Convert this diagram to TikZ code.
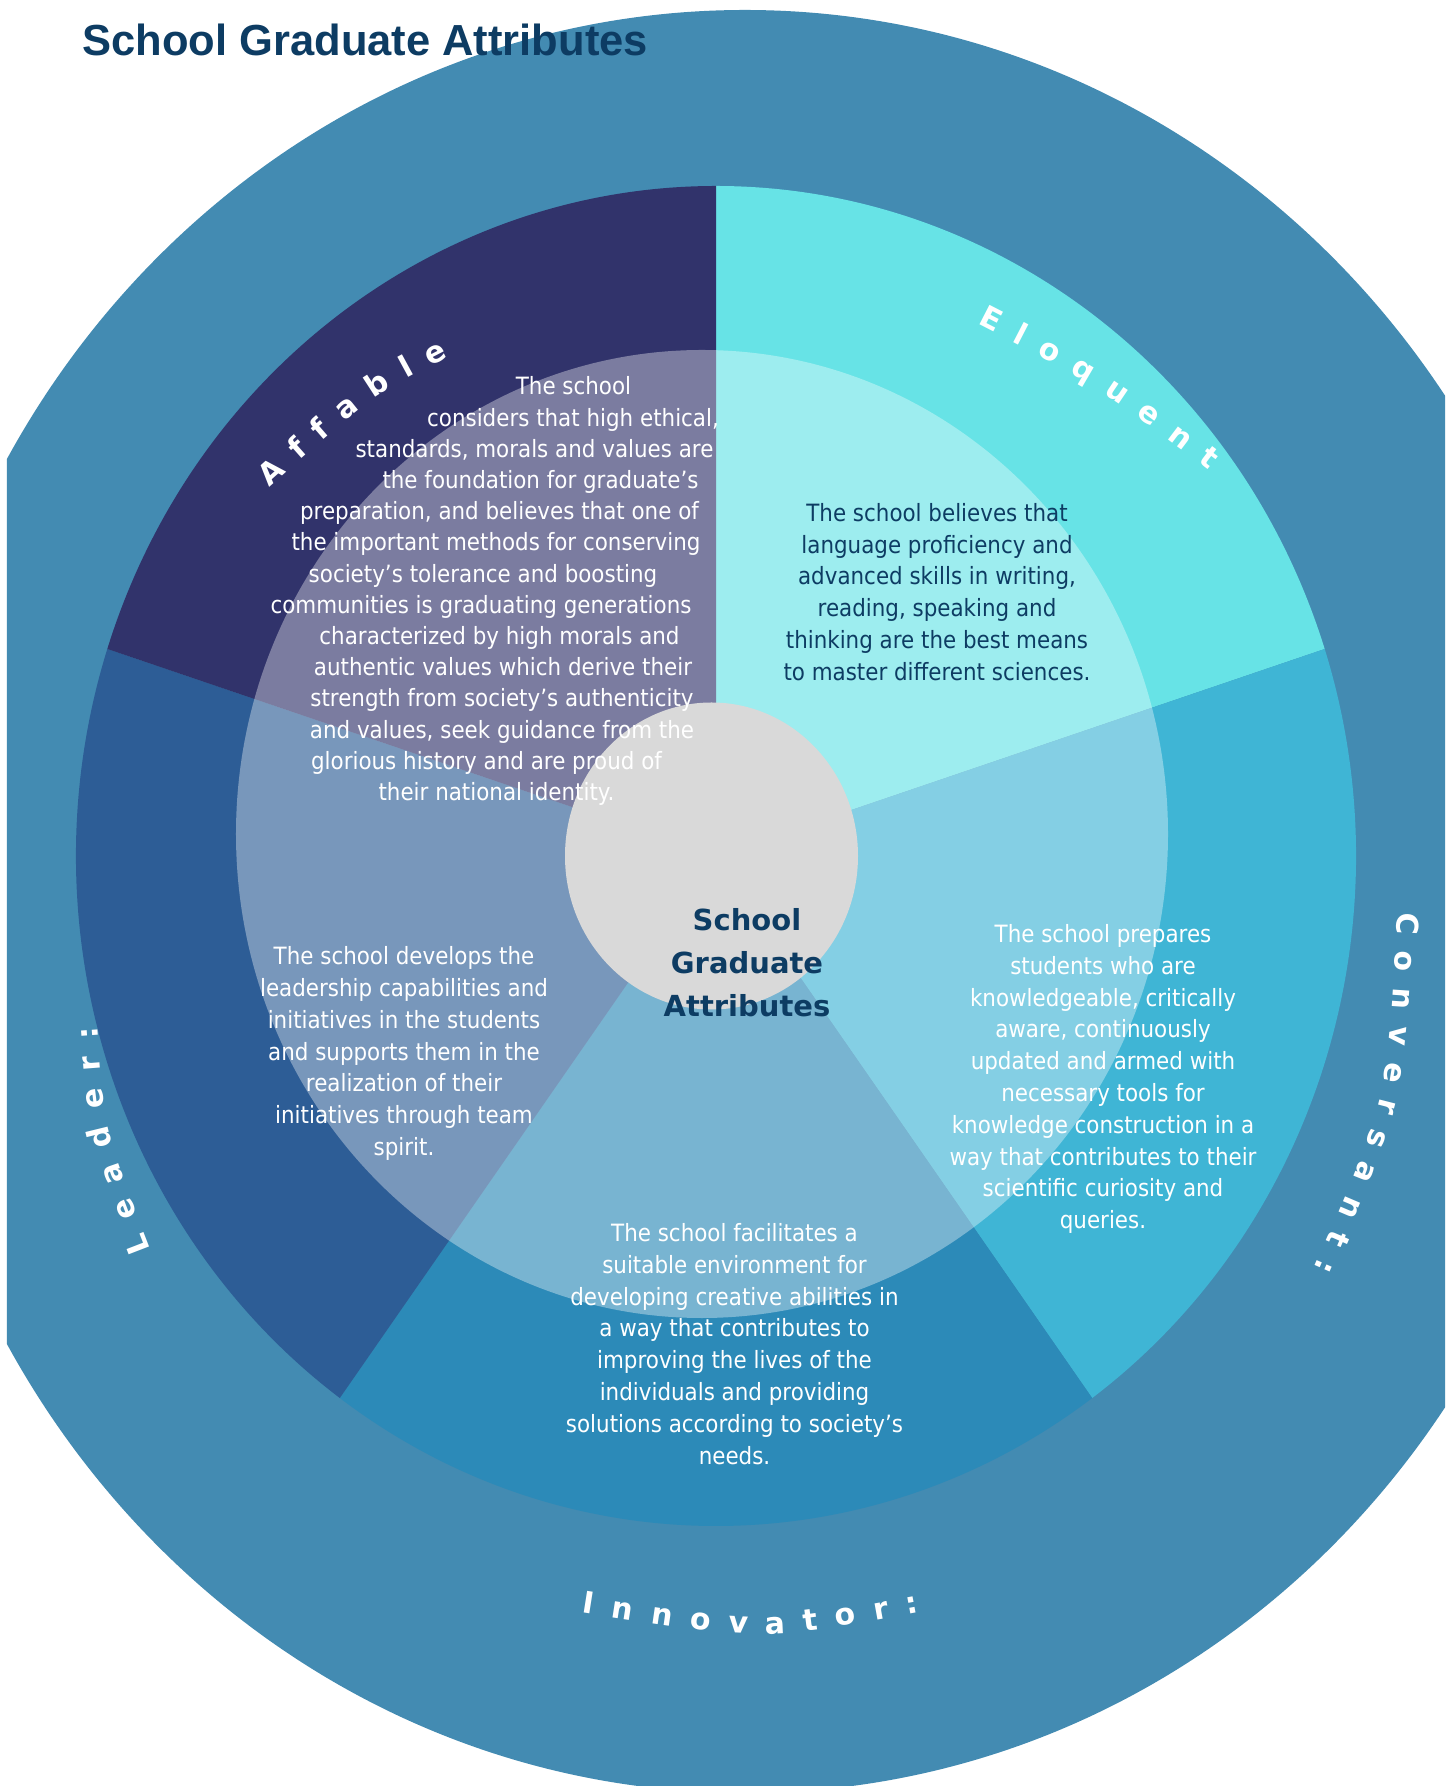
\documentclass[tikz,border=0pt]{standalone}
\usepackage{fontspec}
\setmainfont{DejaVu Sans}[FakeStretch=0.9]
\newfontfamily\titlefont{Liberation Sans}
\newfontfamily\hubfont{DejaVu Sans}
\newcommand{\arcfont}{\hubfont\bfseries\fontsize{15}{15}\selectfont}
\usetikzlibrary{decorations.text}
\definecolor{ringblue}{HTML}{438BB2}
\definecolor{affablecol}{HTML}{31336B}
\definecolor{eloquentcol}{HTML}{67E3E6}
\definecolor{conversantcol}{HTML}{3FB5D5}
\definecolor{innovatorcol}{HTML}{2C8AB8}
\definecolor{leadercol}{HTML}{2D5D96}
\definecolor{hubgray}{HTML}{D9D9D9}
\definecolor{deepnavy}{HTML}{0D3C63}

\begin{document}
\begin{tikzpicture}[x=0.5pt, y=0.5pt]
	\tikzset{body/.style={font=\fontsize{11.9}{15.9}\selectfont, align=center, inner sep=0pt}}
	\tikzset{darkbody/.style={body, text=deepnavy}}
	\tikzset{lightbody/.style={body, text=white}}
	\tikzset{hubtext/.style={font=\hubfont\bfseries\fontsize{14.5}{21.5}\selectfont, text=deepnavy, align=center, inner sep=0pt}}
	\tikzset{titletext/.style={font=\titlefont\bfseries\fontsize{21.75}{26}\selectfont, text=deepnavy, inner sep=0pt}}
	\tikzset{arclabel/.style={decorate, decoration={text along path, text align={fit to path}, text color=white}}}
	\useasboundingbox (-716,-930) rectangle (737,856);
	\coordinate (hub) at (0,0);
	% outer ring
	\begin{scope}
		\clip (-709,-930) rectangle (729,856);
		\fill[ringblue] (29,-45.5) ellipse [x radius=850, y radius=891.5];
	\end{scope}
	% sectors
	\foreach \col/\from/\to in {eloquentcol/90/18, conversantcol/18/-54, innovatorcol/-54/-126, leadercol/-126/-198, affablecol/162/90}
		{\fill[fill=\col] (hub) -- ({640*cos(\from)},{670*sin(\from)}) arc[start angle=\from, end angle=\to, x radius=640, y radius=670] -- cycle;}
	\fill[white, fill opacity=0.36] (-14,22) ellipse [x radius=466, y radius=484];
	\fill[hubgray] (-4.5,0) ellipse [x radius=146.5, y radius=153.5];
	% texts
	\foreach \dx/\txt [count=\i] in {-142.5/The school, -143/{considers that high ethical,}, -181.5/{standards, morals and values are}, -175.5/the foundation for graduate’s, -216.5/{preparation, and believes that one of}, -220/the important methods for conserving, -233/society’s tolerance and boosting, -235/communities is graduating generations, -216.5/characterized by high morals and, -213/authentic values which derive their, -214/strength from society’s authenticity, -214/{and values, seek guidance from the}, -229.5/glorious history and are proud of, -219.5/their national identity.}
		{\node[lightbody, anchor=base] (affable\i) at (\dx, {461-31.2*(\i-1)}) {\txt};}
	\node[darkbody] (eloquenttext) at (221,264) {The school believes that\\language proficiency and\\advanced skills in writing,\\reading, speaking and\\thinking are the best means\\to master different sciences.};
	\node[lightbody] (conversanttext) at (387,-223) {The school prepares\\students who are\\knowledgeable, critically\\aware, continuously\\updated and armed with\\necessary tools for\\knowledge construction in a\\way that contributes to their\\scientific curiosity and\\queries.};
	\node[lightbody] (leadertext) at (-312,-197.5) {The school develops the\\leadership capabilities and\\initiatives in the students\\and supports them in the\\realization of their\\initiatives through team\\spirit.};
	\node[lightbody] (innovatortext) at (18.5,-488) {The school facilitates a\\suitable environment for\\developing creative abilities in\\a way that contributes to\\improving the lives of the\\individuals and providing\\solutions according to society’s\\needs.};
	\node[hubtext] (hubtitle) at (31,-107) {School\\Graduate\\Attributes};
	\node[titletext, anchor=base west] (title) at (-634,800.5) {School Graduate Attributes};
	% curved labels
	\coordinate (affableS) at (-446.4,368.5);
	\coordinate (affableC) at (-344.2,459.5);
	\coordinate (affableE) at (-267.5,499.2);
	\coordinate (eloquentS) at (261,532);
	\coordinate (eloquentC) at (382.3,469.75);
	\coordinate (eloquentE) at (493,385.5);
	\coordinate (conversantS) at (681.6,-56);
	\coordinate (conversantC) at (672.2,-243.3);
	\coordinate (conversantE) at (598,-412);
	\coordinate (innovatorS) at (-134.3,-756.7);
	\coordinate (innovatorC) at (46.25,-785.2);
	\coordinate (innovatorE) at (203.3,-756);
	\coordinate (leaderS) at (-565.2,-393.8);
	\coordinate (leaderC) at (-611,-275.3);
	\coordinate (leaderE) at (-618.3,-170.5);
	\path[arclabel, decoration={text={|\arcfont|Affable}}] (affableS) .. controls (affableC) .. (affableE);
	\path[arclabel, decoration={text={|\arcfont|Eloquent}}] (eloquentS) .. controls (eloquentC) .. (eloquentE);
	\path[arclabel, decoration={text={|\arcfont|Conversant:}}] (conversantS) .. controls (conversantC) .. (conversantE);
	\path[arclabel, decoration={text={|\arcfont|Innovator:}}] (innovatorS) .. controls (innovatorC) .. (innovatorE);
	\path[arclabel, decoration={text={|\arcfont|Leader:}}] (leaderS) .. controls (leaderC) .. (leaderE);
\end{tikzpicture}
\end{document}
